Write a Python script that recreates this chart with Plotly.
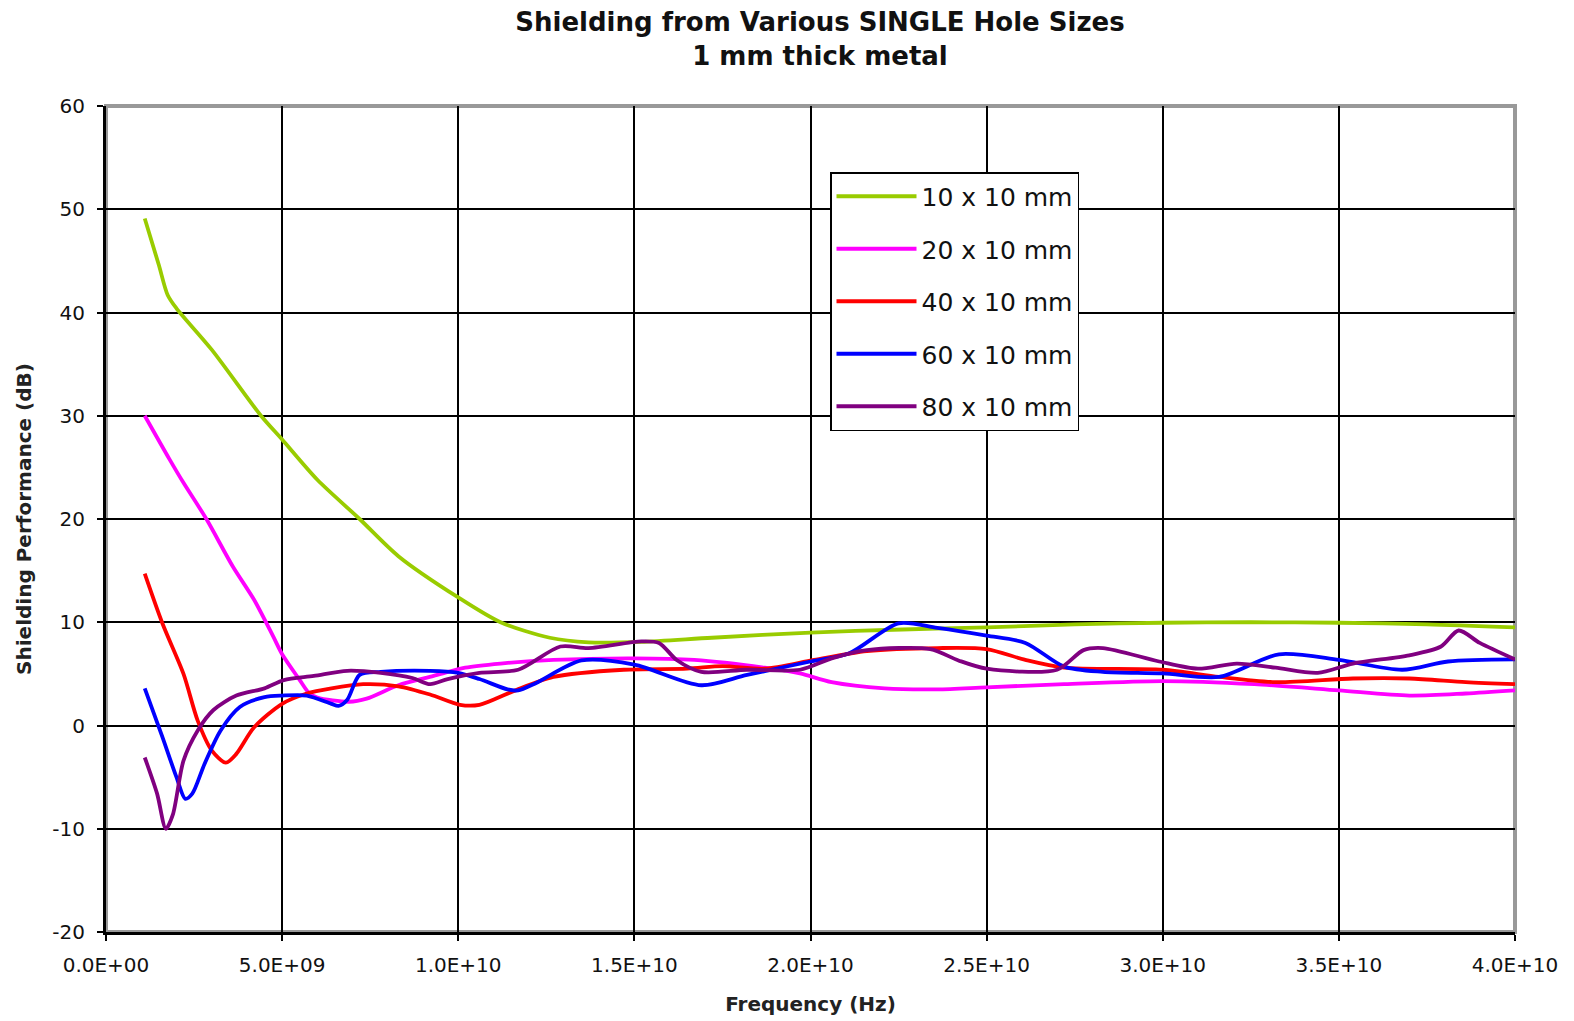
import plotly.graph_objects as go

# ---------------- data ----------------
title_line1 = "Shielding from Various SINGLE Hole Sizes"
title_line2 = "1 mm thick metal"
x_title = "Frequency (Hz)"
y_title = "Shielding Performance (dB)"

series_names = ["10 x 10 mm", "20 x 10 mm", "40 x 10 mm", "60 x 10 mm", "80 x 10 mm"]
series_colors = ["#99CC00", "#FF00FF", "#FF0000", "#0000FF", "#800080"]

x_tick_vals = [0, 5e9, 1e10, 1.5e10, 2e10, 2.5e10, 3e10, 3.5e10, 4e10]
x_tick_text = ["0.0E+00", "5.0E+09", "1.0E+10", "1.5E+10", "2.0E+10",
               "2.5E+10", "3.0E+10", "3.5E+10", "4.0E+10"]
y_tick_vals = [-20, -10, 0, 10, 20, 30, 40, 50, 60]
y_tick_text = ["-20", "-10", "0", "10", "20", "30", "40", "50", "60"]

# frequencies in GHz (converted to Hz below), values in dB
f_10 = [1.1, 1.5, 1.75, 2.0, 3.0, 4.4, 5.0, 6.0, 7.2, 8.3, 10.0, 11.2, 12.6, 13.7,
        15.2, 17.2, 20.0, 22.6, 25.0, 27.5, 30.0, 32.5, 35.0, 37.5, 40.0]
db_10 = [49.1, 44.6, 41.7, 40.4, 36.4, 30.0, 27.7, 23.8, 20.0, 16.4, 12.4, 10.0, 8.5, 8.05,
         8.1, 8.5, 9.0, 9.3, 9.5, 9.8, 9.95, 10.0, 9.95, 9.8, 9.5]

f_20 = [1.1, 1.8, 2.2, 2.85, 3.6, 4.2, 4.75, 5.0, 5.5, 5.75, 6.0, 6.9, 7.4, 8.3, 9.3,
        10.2, 11.2, 12.7, 15.0, 16.7, 18.7, 19.7, 20.6, 22.1, 23.6, 25.0, 27.2, 30.0,
        32.6, 35.0, 37.0, 38.6, 40.0]
db_20 = [30.0, 25.8, 23.5, 20.0, 15.4, 12.2, 8.6, 6.9, 4.4, 3.2, 2.7, 2.3, 2.6, 3.9, 4.8,
         5.6, 6.0, 6.35, 6.5, 6.35, 5.6, 5.05, 4.2, 3.6, 3.5, 3.7, 4.0, 4.3,
         4.0, 3.4, 2.9, 3.1, 3.4]

f_40 = [1.1, 1.6, 2.2, 2.6, 3.0, 3.4, 3.7, 4.2, 5.0, 5.7, 6.4, 7.3, 8.3, 9.2, 10.05,
        10.6, 11.55, 12.7, 14.7, 16.5, 17.5, 18.7, 20.1, 21.6, 23.6, 25.0, 26.1, 27.2,
        30.0, 31.6, 33.2, 35.4, 37.0, 38.6, 40.0]
db_40 = [14.7, 9.9, 5.0, 0.5, -2.4, -3.6, -2.75, -0.2, 2.1, 3.1, 3.6, 4.0, 3.8, 3.0, 2.0,
         2.0, 3.3, 4.7, 5.4, 5.5, 5.75, 5.5, 6.35, 7.2, 7.5, 7.4, 6.35, 5.6,
         5.4, 4.7, 4.2, 4.55, 4.55, 4.2, 4.0]

f_60 = [1.1, 1.6, 2.0, 2.25, 2.45, 2.8, 3.25, 3.8, 4.5, 5.0, 5.7, 6.4, 6.6, 6.85, 7.2,
        7.8, 9.2, 10.0, 10.6, 11.4, 11.7, 12.2, 13.5, 15.0, 16.9, 18.2, 20.0, 21.1,
        22.5, 23.6, 25.0, 26.1, 27.2, 28.3, 30.0, 31.6, 33.3, 35.0, 36.8, 38.1, 40.0]
db_60 = [3.6, -1.1, -5.0, -7.1, -6.6, -3.7, -0.5, 1.8, 2.75, 2.9, 2.9, 2.1, 1.9, 2.5, 4.9,
         5.2, 5.3, 5.1, 4.5, 3.5, 3.4, 4.1, 6.3, 5.9, 3.9, 4.9, 6.2, 7.0,
         9.9, 9.45, 8.7, 8.0, 5.7, 5.2, 5.05, 4.7, 6.9, 6.35, 5.4, 6.2, 6.4]

f_80 = [1.1, 1.45, 1.7, 1.9, 2.2, 2.6, 3.05, 3.7, 4.5, 5.05, 5.9, 6.85, 7.8, 8.7, 9.2,
        9.7, 10.6, 11.7, 12.9, 13.7, 15.2, 15.7, 16.2, 16.9, 18.2, 19.7, 20.6, 21.6,
        23.4, 24.2, 25.0, 27.0, 27.75, 28.3, 29.9, 31.0, 32.1, 33.2, 34.4, 35.4,
        37.0, 37.9, 38.4, 39.0, 40.0]
db_80 = [-3.1, -6.6, -10.0, -8.6, -3.4, -0.5, 1.5, 2.9, 3.6, 4.4, 4.8, 5.3, 5.1, 4.6, 4.0,
         4.5, 5.1, 5.4, 7.65, 7.5, 8.15, 8.0, 6.35, 5.2, 5.4, 5.4, 6.5, 7.3,
         7.4, 6.3, 5.5, 5.4, 7.3, 7.5, 6.2, 5.5, 6.0, 5.6, 5.1, 6.0,
         6.8, 7.65, 9.2, 8.0, 6.4]

series_f = [f_10, f_20, f_40, f_60, f_80]
series_db = [db_10, db_20, db_40, db_60, db_80]

# ---------------- figure ----------------
fig = go.Figure()
for i, (name, color, fs, dbs) in enumerate(zip(series_names, series_colors, series_f, series_db)):
    fig.add_trace(go.Scatter(
        x=[f * 1e9 for f in fs], y=dbs, name=name, mode="lines",
        line=dict(color=color, width=3.8, shape="spline", smoothing=0.8),
        legendgroup=f"g{i}",
    ))

tick_font = dict(family="DejaVu Sans", size=20, color="#111111")
title_font = dict(family="DejaVu Sans", size=20, color="#222222")

fig.update_layout(
    width=1574, height=1021,
    margin=dict(l=98, r=67, t=98, b=97, autoexpand=False),
    paper_bgcolor="white", plot_bgcolor="white",
    title=dict(
        text=f"<b>{title_line1}</b><br><b>{title_line2}</b>",
        x=812 / 1574, xanchor="center", y=1 - 23 / 1021, yanchor="middle",
        font=dict(family="DejaVu Sans", size=26, color="#111111"),
    ),
    showlegend=True,
    legend=dict(
        x=(830 - 106) / 1409, y=(932 - 172) / 826, xanchor="left", yanchor="top",
        bgcolor="white", bordercolor="black", borderwidth=1.5,
        font=dict(family="DejaVu Sans", size=25, color="#111111"),
        traceorder="grouped", tracegroupgap=17,
        itemwidth=80,
    ),
    shapes=[dict(type="rect", xref="paper", yref="paper", x0=0, x1=1, y0=0, y1=1,
                 line=dict(color="#999999", width=4), layer="below")],
)

fig.update_xaxes(
    range=[0, 4e10], tickvals=x_tick_vals, ticktext=x_tick_text,
    showgrid=True, gridcolor="black", gridwidth=1.5, zeroline=False,
    showline=True, linecolor="black", linewidth=3,
    ticks="outside", ticklen=6, tickwidth=1.5, tickcolor="black",
    tickfont=tick_font, ticklabelstandoff=7, automargin=False,
    title=dict(text=f"<b>{x_title}</b>", font=title_font, standoff=21),
)
fig.update_yaxes(
    range=[-20, 60], tickvals=y_tick_vals, ticktext=y_tick_text,
    showgrid=True, gridcolor="black", gridwidth=1.5, zeroline=False,
    showline=True, linecolor="black", linewidth=3,
    ticks="outside", ticklen=6, tickwidth=1.5, tickcolor="black",
    tickfont=tick_font, ticklabelstandoff=8, automargin=False,
    title=dict(text=f"<b>{y_title}</b>", font=title_font, standoff=16),
)

fig.write_html("out.html")
